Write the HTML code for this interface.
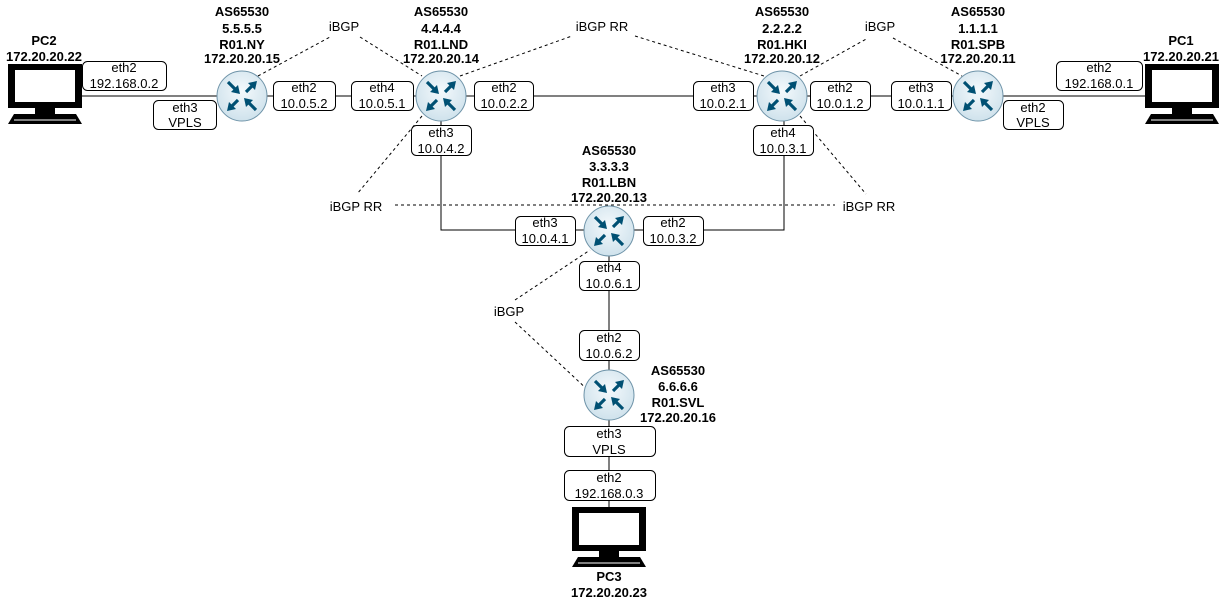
<!DOCTYPE html>
<html><head><style>
body{margin:0;background:#fff}
svg{display:block}
text{font-family:"Liberation Sans",sans-serif;font-size:13px;fill:#000}
.b{font-weight:bold}
</style></head><body>
<svg width="1227" height="603" viewBox="0 0 1227 603" xmlns="http://www.w3.org/2000/svg">
<defs>
<radialGradient id="g" cx="50%" cy="40%" r="60%"><stop offset="0" stop-color="#f4f9fc"/><stop offset="1" stop-color="#cfe2ec"/></radialGradient>
<g id="r">
<circle r="25" fill="url(#g)" stroke="#6e93a8" stroke-width="1"/>
<g stroke="#005073" stroke-width="3.2" fill="#005073">
<line x1="-14" y1="-14" x2="-6" y2="-6"/><polygon points="-2,-2 -11,-4 -4,-11" stroke="none"/>
<line x1="4" y1="-4" x2="11" y2="-11"/><polygon points="15,-15 6,-13 13,-6" stroke="none"/>
<line x1="-4" y1="4" x2="-11" y2="11"/><polygon points="-15,15 -6,13 -13,6" stroke="none"/>
<line x1="14" y1="14" x2="6" y2="6"/><polygon points="2,2 11,4 4,11" stroke="none"/>
</g></g>
<g id="pc">
<rect x="0" y="0" width="74" height="44" fill="#000"/>
<rect x="7" y="6" width="60" height="32" fill="#fff"/>
<rect x="27" y="44" width="20" height="6" fill="#000"/>
<polygon points="6,50 68,50 74,60 0,60" fill="#000"/>
<line x1="6" y1="56" x2="68" y2="56" stroke="#fff" stroke-width="1"/>
</g>
</defs>
<g stroke="#000" stroke-width="1" fill="none">
<line x1="81" y1="96" x2="1145" y2="96"/>
<polyline points="441,110 441,230 784,230 784,110"/>
<line x1="609" y1="230" x2="609" y2="395"/>
<line x1="609" y1="420" x2="609" y2="508"/>
</g>
<g stroke="#000" stroke-width="1" stroke-dasharray="3,3" fill="none">
<line x1="258" y1="76" x2="330" y2="37"/>
<line x1="360" y1="37" x2="422" y2="76"/>
<line x1="460" y1="76" x2="572" y2="36"/>
<line x1="635" y1="36" x2="764" y2="76"/>
<line x1="800" y1="76" x2="868" y2="38"/>
<line x1="893" y1="38" x2="962" y2="76"/>
<line x1="422" y1="116" x2="357" y2="194"/>
<line x1="800" y1="116" x2="866" y2="194"/>
<line x1="395" y1="205" x2="835" y2="205"/>
<line x1="515" y1="300" x2="590" y2="250"/>
<line x1="515" y1="322" x2="590" y2="392"/>
</g>
<use href="#r" x="242" y="96"/><use href="#r" x="441" y="96"/><use href="#r" x="782" y="96"/><use href="#r" x="978" y="96"/><use href="#r" x="609" y="231"/><use href="#r" x="609" y="395"/>
<use href="#pc" x="8" y="64"/><use href="#pc" x="1145" y="64"/><use href="#pc" x="572" y="507"/>
<g fill="#fff" stroke="#000" stroke-width="1">
<rect x="82.5" y="61.5" width="84" height="29" rx="5"/>
<rect x="153.5" y="100.5" width="63" height="29" rx="5"/>
<rect x="273.5" y="81.5" width="62" height="29" rx="5"/>
<rect x="351.5" y="81.5" width="62" height="29" rx="5"/>
<rect x="474.5" y="81.5" width="59" height="29" rx="5"/>
<rect x="693.5" y="81.5" width="60" height="29" rx="5"/>
<rect x="810.5" y="81.5" width="60" height="29" rx="5"/>
<rect x="891.5" y="81.5" width="60" height="29" rx="5"/>
<rect x="1056.5" y="61.5" width="86" height="29" rx="5"/>
<rect x="1003.5" y="100.5" width="60" height="29" rx="5"/>
<rect x="411.5" y="125.5" width="60" height="30" rx="5"/>
<rect x="753.5" y="125.5" width="60" height="30" rx="5"/>
<rect x="515.5" y="216.5" width="60" height="29" rx="5"/>
<rect x="643.5" y="216.5" width="60" height="29" rx="5"/>
<rect x="579.5" y="261.5" width="60" height="29" rx="5"/>
<rect x="579.5" y="330.5" width="60" height="30" rx="5"/>
<rect x="564.5" y="426.5" width="91" height="30" rx="5"/>
<rect x="564.5" y="470.5" width="91" height="30" rx="5"/>
</g>
<g text-anchor="middle">
<text x="124" y="72">eth2</text><text x="124" y="88">192.168.0.2</text>
<text x="185" y="112">eth3</text><text x="185" y="127">VPLS</text>
<text x="304" y="92">eth2</text><text x="304" y="108">10.0.5.2</text>
<text x="382" y="92">eth4</text><text x="382" y="108">10.0.5.1</text>
<text x="504" y="92">eth2</text><text x="504" y="108">10.0.2.2</text>
<text x="723" y="92">eth3</text><text x="723" y="108">10.0.2.1</text>
<text x="840" y="92">eth2</text><text x="840" y="108">10.0.1.2</text>
<text x="921" y="92">eth3</text><text x="921" y="108">10.0.1.1</text>
<text x="1099" y="72">eth2</text><text x="1099" y="88">192.168.0.1</text>
<text x="1033" y="112">eth2</text><text x="1033" y="127">VPLS</text>
<text x="441" y="137">eth3</text><text x="441" y="153">10.0.4.2</text>
<text x="783" y="137">eth4</text><text x="783" y="153">10.0.3.1</text>
<text x="545" y="227">eth3</text><text x="545" y="243">10.0.4.1</text>
<text x="673" y="227">eth2</text><text x="673" y="243">10.0.3.2</text>
<text x="609" y="272">eth4</text><text x="609" y="288">10.0.6.1</text>
<text x="609" y="342">eth2</text><text x="609" y="358">10.0.6.2</text>
<text x="609" y="438">eth3</text><text x="609" y="454">VPLS</text>
<text x="609" y="482">eth2</text><text x="609" y="498">192.168.0.3</text>
<text x="344" y="31">iBGP</text><text x="602" y="31">iBGP RR</text><text x="880" y="31">iBGP</text>
<text x="356" y="211">iBGP RR</text><text x="869" y="211">iBGP RR</text><text x="509" y="316">iBGP</text>
</g>
<g text-anchor="middle" class="b">
<text class="b" x="44" y="45">PC2</text><text class="b" x="44" y="61">172.20.20.22</text>
<text class="b" x="1181" y="45">PC1</text><text class="b" x="1181" y="61">172.20.20.21</text>
<text class="b" x="609" y="581">PC3</text><text class="b" x="609" y="597">172.20.20.23</text>
<text class="b" x="242" y="16">AS65530</text><text class="b" x="242" y="33">5.5.5.5</text><text class="b" x="242" y="49">R01.NY</text><text class="b" x="242" y="63">172.20.20.15</text>
<text class="b" x="441" y="16">AS65530</text><text class="b" x="441" y="33">4.4.4.4</text><text class="b" x="441" y="49">R01.LND</text><text class="b" x="441" y="63">172.20.20.14</text>
<text class="b" x="782" y="16">AS65530</text><text class="b" x="782" y="33">2.2.2.2</text><text class="b" x="782" y="49">R01.HKI</text><text class="b" x="782" y="63">172.20.20.12</text>
<text class="b" x="978" y="16">AS65530</text><text class="b" x="978" y="33">1.1.1.1</text><text class="b" x="978" y="49">R01.SPB</text><text class="b" x="978" y="63">172.20.20.11</text>
<text class="b" x="609" y="155">AS65530</text><text class="b" x="609" y="171">3.3.3.3</text><text class="b" x="609" y="187">R01.LBN</text><text class="b" x="609" y="202">172.20.20.13</text>
<text class="b" x="678" y="375">AS65530</text><text class="b" x="678" y="391">6.6.6.6</text><text class="b" x="678" y="407">R01.SVL</text><text class="b" x="678" y="422">172.20.20.16</text>
</g>
</svg>
</body></html>
